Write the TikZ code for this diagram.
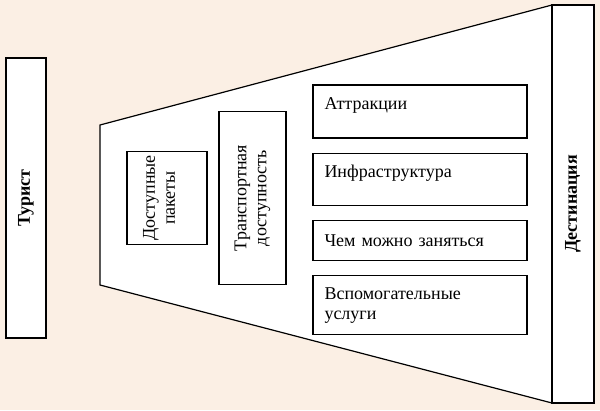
\documentclass[tikz,border=0pt]{standalone}
\usepackage{fontspec}
\setmainfont{Liberation Serif}
\usetikzlibrary{positioning}
\definecolor{fon}{RGB}{251,239,228}

\begin{document}
\begin{tikzpicture}[x=1pt, y=-1pt, font=\fontsize{18}{20}\selectfont, line width=1.2pt, node distance=14pt,
   bx/.style={draw, fill=white, inner sep=0pt, align=center},
   vbx/.style={bx, rotate=90},
   lbx/.style={draw, fill=white, minimum width=214pt, text width=191pt, inner xsep=11.5pt, inner ysep=0pt, align=left}]
  \fill[fon] (0,0) rectangle (600,410);
  \useasboundingbox (0,0) rectangle (600,410);
  \filldraw[fill=white] (100,125) -- (552,5) -- (552,403) -- (100,285) -- cycle;
  \node[vbx, minimum width=280pt, minimum height=40pt] (turist) at (26,198) {\bfseries Турист};
  \node[vbx, minimum width=398pt, minimum height=42pt] (dest) at (573,204) {\bfseries Дестинация};
  \node[vbx, minimum width=93pt, minimum height=80pt, text depth=16pt] (pakety) at (167,198) {Доступные\\ пакеты};
  \node[vbx, minimum width=173pt, minimum height=67pt] (transport) at (252.5,198) {Транспортная\\ доступность};
  \node[lbx, minimum height=53pt, text depth=16pt] (attr) at (420,111.5) {Аттракции};
  \node[lbx, minimum height=52pt, text depth=16pt, below=of attr] (infra) {Инфраструктура};
  \node[lbx, minimum height=40pt, below=of infra] (zanyatsya) {Чем можно заняться};
  \node[lbx, minimum height=59pt, below=of zanyatsya] (uslugi) {Вспомогательные\\ услуги};
\end{tikzpicture}
\end{document}
